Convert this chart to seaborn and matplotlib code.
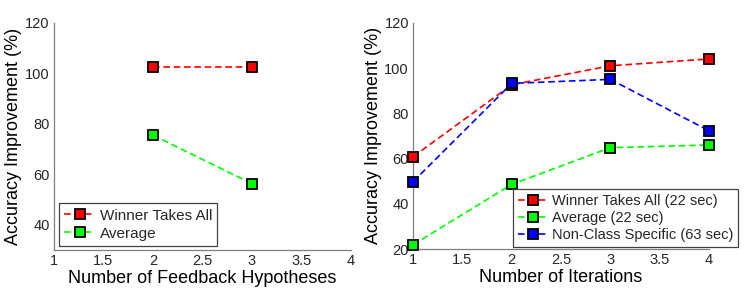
import numpy as np
import pandas as pd
import seaborn as sns
import matplotlib
matplotlib.use("Agg")
import matplotlib.pyplot as plt

# left panel: number of feedback hypotheses
hyp_x = [2, 3]
hyp_wta = [102.3, 102.3]
hyp_avg = [75.5, 56.3]

# right panel: number of iterations
iter_x = [1, 2, 3, 4]
iter_wta = [60.8, 92.6, 101.0, 104.0]
iter_avg = [21.9, 48.6, 64.8, 66.0]
iter_ncs = [49.8, 93.2, 95.0, 72.3]

sns.set_style("white")
plt.rcParams['font.family'] = ['Liberation Sans', 'DejaVu Sans']

fig = plt.figure(figsize=(7.47, 2.92), dpi=100)
ax1 = fig.add_axes([0.0723, 0.144, 0.397, 0.778])
ax2 = fig.add_axes([0.553, 0.147, 0.396, 0.775])

spine_col = "#7f7f7f"
text_col = "#262626"


def draw(ax, x, y, col, lab):
    sns.lineplot(x=x, y=y, ax=ax, color=col, linestyle=(0, (4, 2.2)), linewidth=1.2,
                 marker='s', markersize=7.2, markerfacecolor=col,
                 markeredgecolor='k', markeredgewidth=1.3, label=lab,
                 clip_on=False, zorder=5)


draw(ax1, hyp_x, hyp_wta, '#ff0000', 'Winner Takes All')
draw(ax1, hyp_x, hyp_avg, '#00ff00', 'Average')

draw(ax2, iter_x, iter_wta, '#ff0000', 'Winner Takes All (22 sec)')
draw(ax2, iter_x, iter_avg, '#00ff00', 'Average (22 sec)')
draw(ax2, iter_x, iter_ncs, '#0000ff', 'Non-Class Specific (63 sec)')

for ax, lo, xl in [(ax1, 30, 'Number of Feedback Hypotheses'),
                   (ax2, 20, 'Number of Iterations')]:
    ax.set_xlim(1, 4)
    ax.set_ylim(lo, 120)
    ax.set_xticks(np.arange(1, 4.01, 0.5))
    ax.set_xticklabels(['1', '1.5', '2', '2.5', '3', '3.5', '4'])
    ax.set_yticks(np.arange(40 if lo == 30 else 20, 121, 20))
    for s in ['top', 'right']:
        ax.spines[s].set_visible(False)
    for s in ['left', 'bottom']:
        ax.spines[s].set_color(spine_col)
        ax.spines[s].set_linewidth(0.9)
    ax.tick_params(direction='in', length=3, width=0.8, color=spine_col,
                   labelsize=10.5, labelcolor=text_col, pad=3)
    ax.set_xlabel(xl, fontsize=13, color='black', labelpad=1)
    ax.set_ylabel('Accuracy Improvement (%)', fontsize=13, color='black', labelpad=2)

leg1 = ax1.legend(loc='lower left', bbox_to_anchor=(0.017, 0.018), borderaxespad=0,
                  fontsize=11, frameon=True, fancybox=False, handlelength=2.0,
                  handletextpad=0.3, borderpad=0.35, labelspacing=0.25)
leg2 = ax2.legend(loc='lower right', bbox_to_anchor=(1.10, 0.01), borderaxespad=0,
                  fontsize=10.5, frameon=True, fancybox=False, handlelength=2.0,
                  handletextpad=0.3, borderpad=0.35, labelspacing=0.2)
for leg in (leg1, leg2):
    leg.get_frame().set_edgecolor('#404040')
    leg.get_frame().set_linewidth(0.9)
    leg.get_frame().set_alpha(1)
    leg.set_zorder(10)

fig.savefig('out.png', dpi=100)
